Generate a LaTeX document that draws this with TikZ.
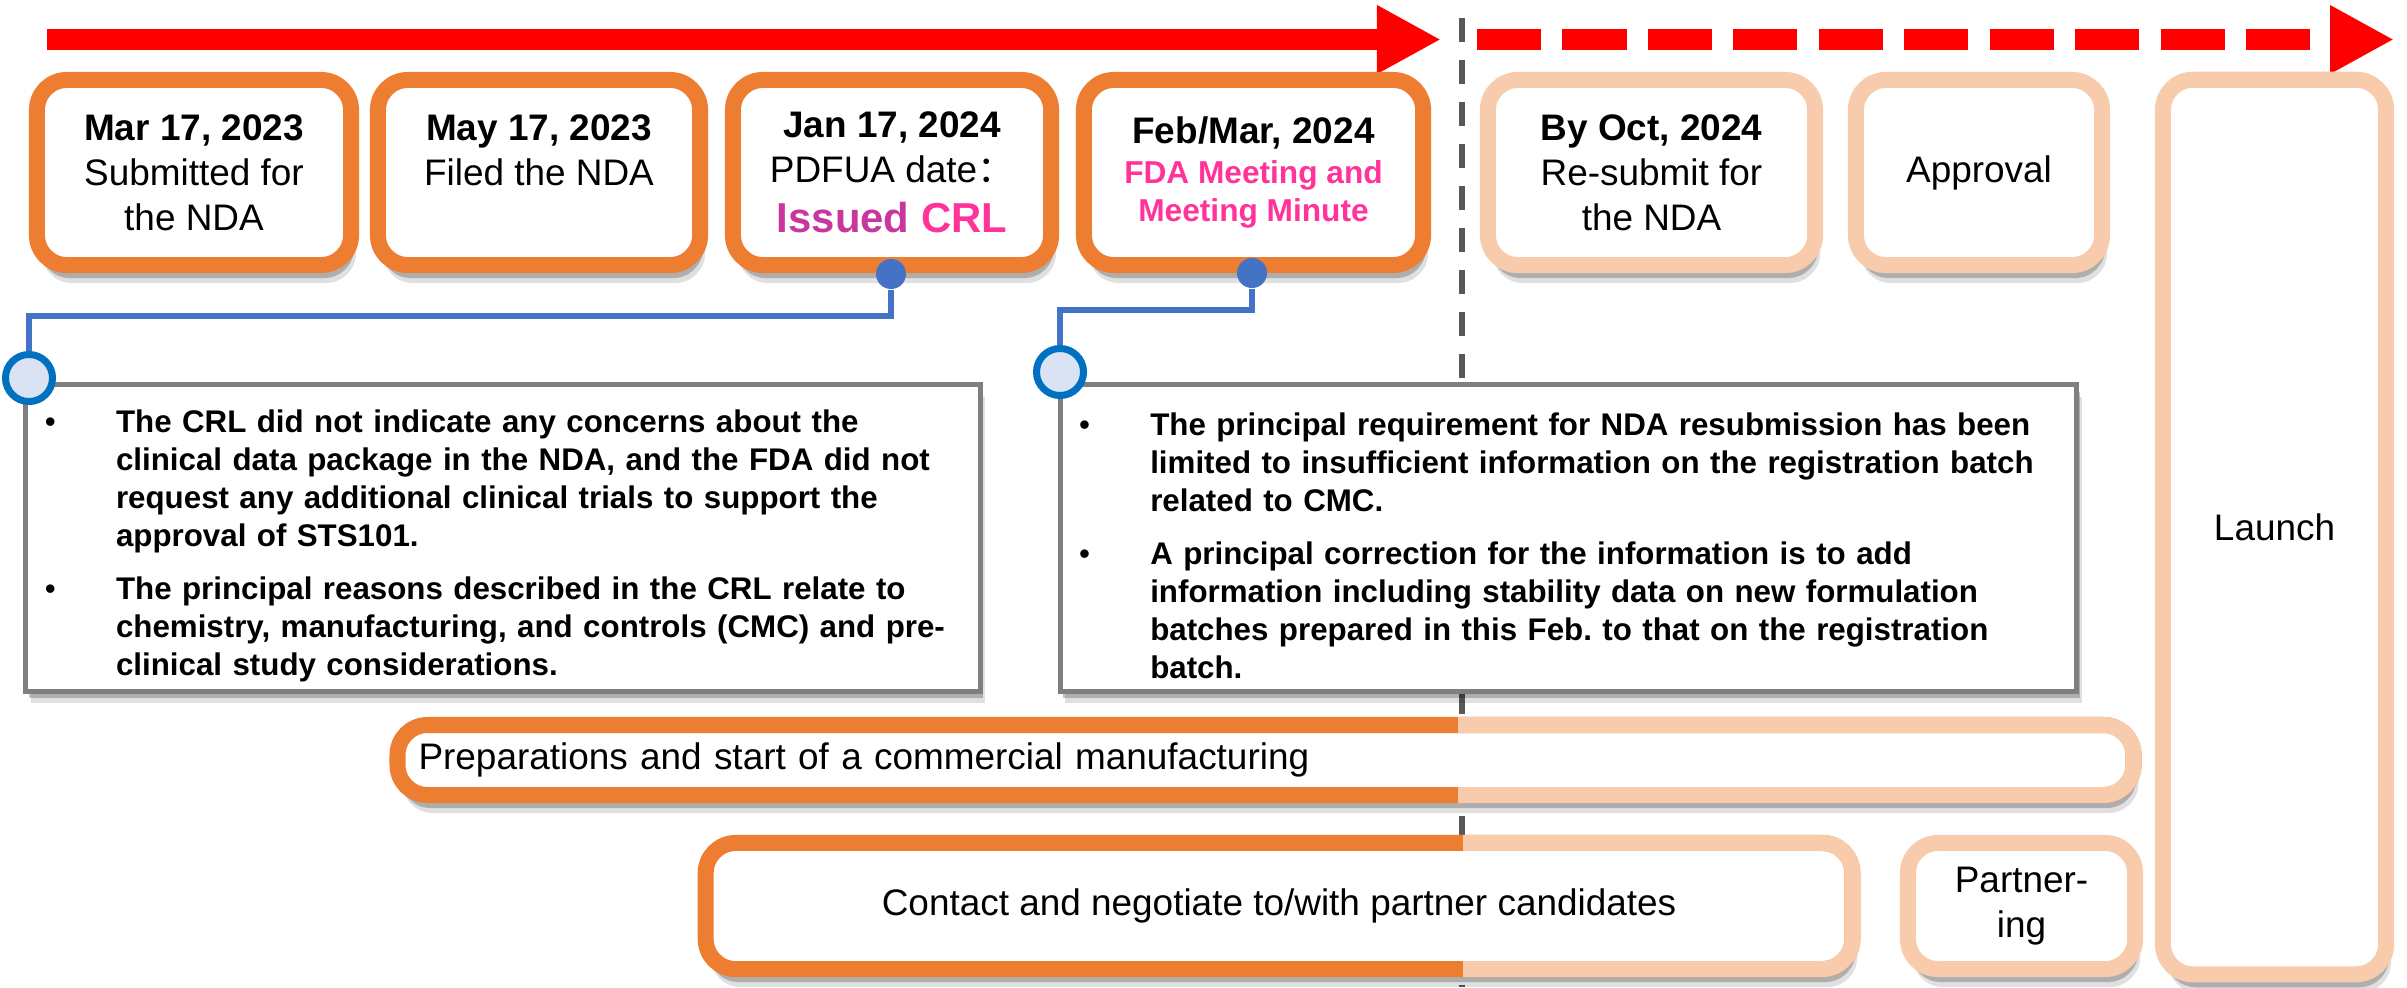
\documentclass[tikz,border=0pt]{standalone}
\usepackage{fontspec}
\setmainfont{Liberation Sans}
\newfontfamily\cjkfont{Noto Sans CJK SC}
\usetikzlibrary{arrows.meta, shadows}

\definecolor{boxorange}{HTML}{ED7D31}
\definecolor{boxpeach}{HTML}{F8CBAD}
\definecolor{linkblue}{HTML}{4472C4}
\definecolor{ringblue}{HTML}{0070C0}
\definecolor{ringfill}{HTML}{DAE3F3}
\definecolor{calloutgray}{HTML}{7F7F7F}
\definecolor{dashgray}{HTML}{595959}
\definecolor{crlpink}{HTML}{FF3399}
\definecolor{crlmagenta}{HTML}{C8369E}

\newcommand{\calloutitem}[1]{\par\hangindent=0.71cm\hangafter=1\noindent\makebox[0.71cm][l]{\mdseries\textbullet}#1\par}
\newcommand{\meetingtext}{\fontsize{9}{10.8}\selectfont\bfseries\color{crlpink}}

\begin{document}
\begin{tikzpicture}[
    x=0.01cm, y=-0.01cm,
    boxshadow/.style={drop shadow={shadow xshift=0.03cm, shadow yshift=-0.13cm, opacity=0.22, fill=black},
        drop shadow={shadow xshift=0.05cm, shadow yshift=-0.18cm, opacity=0.12, fill=black}},
    calloutshadow/.style={drop shadow={shadow xshift=0.03cm, shadow yshift=-0.07cm, opacity=0.22, fill=black},
        drop shadow={shadow xshift=0.05cm, shadow yshift=-0.12cm, opacity=0.12, fill=black}},
    datebox/.style={rectangle, draw=boxorange, line width=0.16cm, fill=white, rounded corners=0.3cm, minimum height=1.85cm, inner sep=0pt, outer sep=0pt, align=center, font=\fontsize{10.5}{12.8}\selectfont, boxshadow},
    laterbox/.style={datebox, draw=boxpeach},
    barbox/.style={datebox, minimum height=1.26cm},
    callout/.style={rectangle, draw=calloutgray, line width=0.05cm, fill=white, minimum height=3.06cm, inner xsep=0.19cm, inner ysep=0pt, align=left, font=\fontsize{8.9}{10.8}\selectfont\bfseries\frenchspacing, calloutshadow},
    pin/.style={circle, fill=linkblue, minimum size=0.3cm, inner sep=0pt},
    ringmark/.style={circle, draw=ringblue, line width=0.07cm, fill=ringfill, minimum size=0.47cm, inner sep=0pt},
    leader/.style={draw=linkblue, line width=0.055cm},
    timeline/.style={red, line width=0.21cm, -{Triangle[length=0.64cm, width=0.64cm]}}
]
\path[use as bounding box, fill=white] (0,0) rectangle (2407,987);

% today marker and time arrows
\coordinate (g0) at (1462,18);
\coordinate (g1) at (1462,987);
\draw[dashgray, line width=0.055cm, dash pattern=on 0.24cm off 0.18cm] (g0) -- (g1);
\coordinate (t0) at (47,39.5);
\coordinate (t1) at (1441,39.5);
\coordinate (t2) at (1477,39.5);
\coordinate (t3) at (2394,39.5);
\draw[timeline] (t0) -- (t1);
\draw[timeline, dash pattern=on 0.64cm off 0.214cm] (t2) -- (t3);

% milestones
\node[datebox, minimum width=3.14cm] (mar23) at (194,172.5) {\textbf{Mar 17, 2023}\\Submitted for\\the NDA};
\node[datebox, minimum width=3.22cm] (may23) at (539,172.5) {\textbf{May 17, 2023}\\Filed the NDA\\~};
\node[datebox, minimum width=3.18cm] (jan24) at (892,172.5) {\textbf{Jan 17, 2024}\\PDFUA date{\cjkfont ：}\\[1.4pt]{\fontsize{11.9}{14}\selectfont\bfseries\color{crlmagenta}Issued \color{crlpink}CRL}};
\node[datebox, minimum width=3.39cm] (feb24) at (1253.5,172.5) {\textbf{Feb/Mar, 2024}\\[-1.4pt]{\meetingtext FDA Meeting and}\\[-2pt]{\meetingtext Meeting Minute}};
\node[laterbox, minimum width=3.27cm] (oct24) at (1651.5,172.5) {\textbf{By Oct, 2024}\\Re-submit for\\the NDA};
\node[laterbox, minimum width=2.46cm] (approval) at (1979,172.5) {Approval};
\node[laterbox, minimum width=2.23cm, minimum height=8.94cm] (launch) at (2274.5,527) {Launch};

% CRL and meeting notes
\node[callout, text width=9.155cm] (crlnote) at (503,538) {%
\calloutitem{The CRL did not indicate any concerns about the\newline clinical data package in the NDA, and the FDA did not\newline request any additional clinical trials to support the\newline approval of STS101.}
\vspace{4.3pt}
\calloutitem{The principal reasons described in the CRL relate to\newline chemistry, manufacturing, and controls (CMC) and pre-\newline clinical study considerations.}};
\node[callout, text width=9.78cm] (meetnote) at (1568.5,538) {%
\calloutitem{The principal requirement for NDA resubmission has been\newline limited to insufficient information on the registration batch\newline related to CMC.}
\vspace{4.3pt}
\calloutitem{A principal correction for the information is to add\newline information including stability data on new formulation\newline batches prepared in this Feb. to that on the registration\newline batch.}};

\node[pin] (pinA) at (891,274) {};
\node[pin] (pinB) at (1252,273) {};
\node[ringmark] (ringA) at (29,378) {};
\node[ringmark] (ringB) at (1060,372) {};
\draw[leader] (pinA) -- ++(0,42) -| (ringA);
\draw[leader] (pinB) -- ++(0,37) -| (ringB);

% ongoing work bars, later part in peach
\node[datebox, minimum width=17.35cm, minimum height=0.70cm, text width=16.93cm, inner xsep=0.21cm, align=left] (prep) at (1265.5,760) {Preparations and start of a commercial manufacturing};
\begin{scope}
\clip (1458,700) rectangle (2160,820);
\draw[boxpeach, line width=0.16cm, rounded corners=0.3cm] (prep.south west) rectangle (prep.north east);
\end{scope}
\node[barbox, minimum width=11.46cm] (contact) at (1279,906) {Contact and negotiate to/with partner candidates};
\begin{scope}
\clip (1463,820) rectangle (1880,990);
\draw[boxpeach, line width=0.16cm, rounded corners=0.3cm] (contact.south west) rectangle (contact.north east);
\end{scope}
\node[laterbox, minimum width=2.27cm, minimum height=1.26cm] (partner) at (2021.5,906) {Partner-\\ing};
\end{tikzpicture}
\end{document}
